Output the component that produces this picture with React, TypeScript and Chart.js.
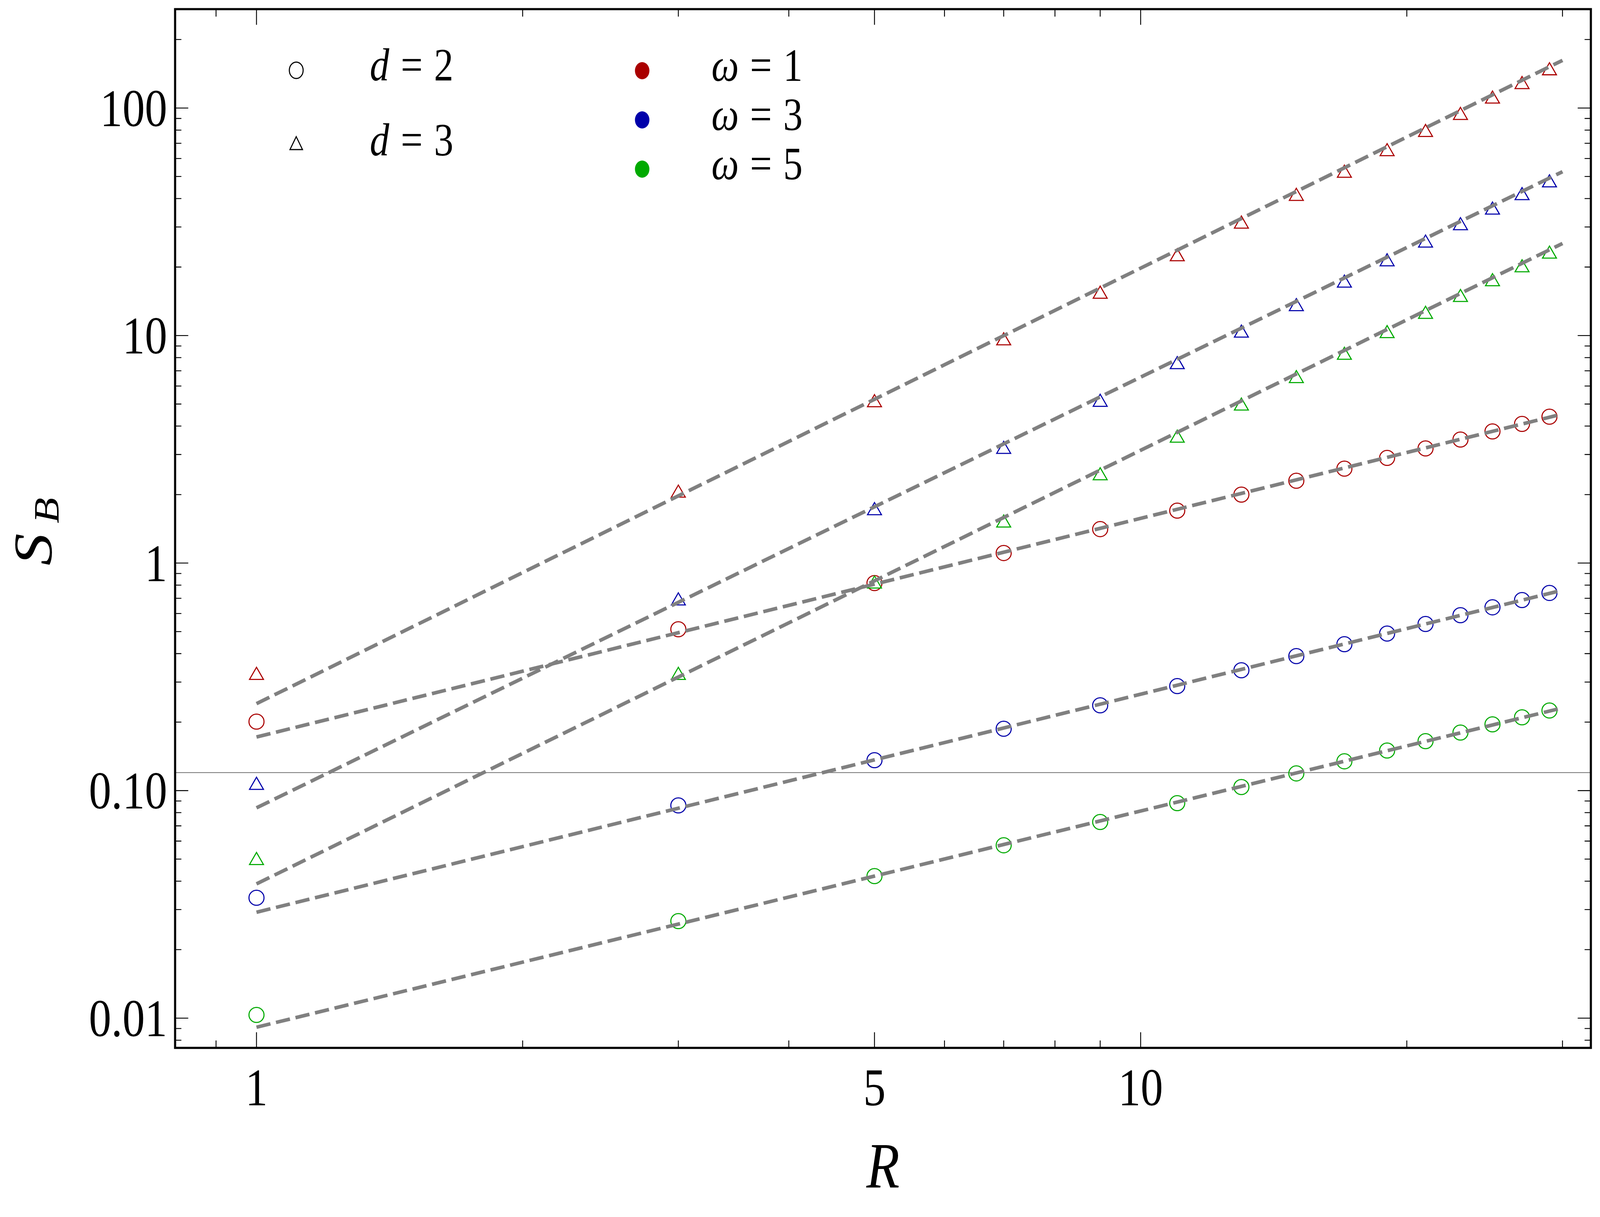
import React, { useEffect, useRef } from 'react';
import { Chart, registerables } from 'chart.js';

Chart.register(...registerables);

// ---------- data ----------
const R = [1, 3, 5, 7, 9, 11, 13, 15, 17, 19, 21, 23, 25, 27, 29];

// d = 3 (triangles)
const d3w1 = [0.321, 2.03, 5.07, 9.48, 15.2, 22.2, 30.9, 40.9, 51.7, 64.3, 78.1, 92.8, 109.5, 126.8, 145.8];
const d3w3 = [0.1055, 0.682, 1.7, 3.16, 5.09, 7.45, 10.25, 13.4, 17.0, 21.1, 25.5, 30.4, 35.6, 41.2, 46.9];
const d3w5 = [0.0493, 0.321, 0.809, 1.5, 2.42, 3.54, 4.9, 6.47, 8.19, 10.2, 12.4, 14.7, 17.25, 19.85, 22.8];

// d = 2 (circles)
const d2w1 = [0.201, 0.512, 0.817, 1.107, 1.41, 1.7, 2.0, 2.3, 2.6, 2.9, 3.19, 3.49, 3.79, 4.09, 4.4];
const d2w3 = [0.0338, 0.0861, 0.136, 0.187, 0.237, 0.288, 0.338, 0.39, 0.44, 0.49, 0.54, 0.59, 0.639, 0.688, 0.739];
const d2w5 = [0.01033, 0.0267, 0.0421, 0.0575, 0.0728, 0.0881, 0.1037, 0.119, 0.1345, 0.15, 0.165, 0.18, 0.1955, 0.21, 0.225];

// fitted power laws (end points)
const FIT_R = [1, 30];
const fitD3w1 = [0.241, 162];
const fitD3w3 = [0.084, 52.5];
const fitD3w5 = [0.0389, 25.4];
const fitD2w1 = [0.172, 4.52];
const fitD2w3 = [0.0292, 0.76];
const fitD2w5 = [0.00912, 0.231];

const REF_LEVEL = 0.12;

// axes
const X_MIN = 0.809;
const X_MAX = 32.3;
const Y_MIN = 0.0074;
const Y_MAX = 272;
const X_MAJOR = [1, 5, 10];
const X_LABELS = ['1', '5', '10'];
const X_MINOR = [0.9, 2, 3, 4, 6, 7, 8, 9, 20, 30];
const Y_MAJOR = [0.01, 0.1, 1, 10, 100];
const Y_LABELS = ['0.01', '0.10', '1', '10', '100'];
const Y_MINOR = [
  0.008, 0.009,
  0.02, 0.03, 0.04, 0.05, 0.06, 0.07, 0.08, 0.09,
  0.2, 0.3, 0.4, 0.5, 0.6, 0.7, 0.8, 0.9,
  2, 3, 4, 5, 6, 7, 8, 9,
  20, 30, 40, 50, 60, 70, 80, 90,
  200,
];

const D_LEGEND = ['2', '3'];
const W_LEGEND = ['1', '3', '5'];

const RED = '#aa0000';
const BLUE = '#0000aa';
const GREEN = '#00aa00';
const GRAY = '#808080';
const SERIF = '"Liberation Serif", "DejaVu Serif", serif';

// design reference size
const REF_W = 4861;
const REF_H = 3116;

const pts = (xs: number[], ys: number[]) => xs.map((x, i) => ({ x, y: ys[i] }));

function makeDecor(kx: number, ky: number) {
  const k = Math.sqrt(kx * ky);
  const X = (v: number) => v * kx;
  const Y = (v: number) => v * ky;
  const S = (v: number) => v * k;

  const text = (
    ctx: CanvasRenderingContext2D,
    s: string,
    x: number,
    y: number,
    size: number,
    italic: boolean,
    align: CanvasTextAlign,
  ) => {
    ctx.save();
    ctx.translate(x, y);
    ctx.scale(kx, ky);
    ctx.font = `${italic ? 'italic ' : ''}${size}px ${SERIF}`;
    ctx.textAlign = align;
    ctx.textBaseline = 'alphabetic';
    ctx.fillText(s, 0, 0);
    ctx.restore();
  };

  return {
    id: 'decor',
    beforeDatasetsDraw(chart: any) {
      const { ctx, chartArea: a, scales } = chart;
      const y = scales.y.getPixelForValue(REF_LEVEL);
      ctx.save();
      ctx.strokeStyle = GRAY;
      ctx.lineWidth = S(2.5);
      ctx.beginPath();
      ctx.moveTo(a.left, y);
      ctx.lineTo(a.right, y);
      ctx.stroke();
      ctx.restore();
    },
    afterDraw(chart: any) {
      const { ctx, chartArea: a, scales } = chart;
      const xs = scales.x;
      const ys = scales.y;
      ctx.save();
      ctx.strokeStyle = '#000';
      ctx.fillStyle = '#000';
      ctx.lineWidth = S(2.5);
      const xt = (v: number, len: number) => {
        const px = xs.getPixelForValue(v);
        ctx.beginPath();
        ctx.moveTo(px, a.bottom);
        ctx.lineTo(px, a.bottom - Y(len));
        ctx.moveTo(px, a.top);
        ctx.lineTo(px, a.top + Y(len));
        ctx.stroke();
      };
      const yt = (v: number, len: number) => {
        const py = ys.getPixelForValue(v);
        ctx.beginPath();
        ctx.moveTo(a.left, py);
        ctx.lineTo(a.left + X(len), py);
        ctx.moveTo(a.right, py);
        ctx.lineTo(a.right - X(len), py);
        ctx.stroke();
      };
      X_MINOR.forEach((v) => xt(v, 19));
      X_MAJOR.forEach((v) => xt(v, 40));
      Y_MINOR.forEach((v) => yt(v, 19));
      Y_MAJOR.forEach((v) => yt(v, 40));

      // frame
      ctx.lineWidth = S(6);
      ctx.strokeRect(a.left, a.top, a.right - a.left, a.bottom - a.top);

      // tick labels
      Y_MAJOR.forEach((v, i) => {
        const py = ys.getPixelForValue(v);
        text(ctx, Y_LABELS[i], a.left - X(24), py + Y(46), 136, false, 'right');
      });
      X_MAJOR.forEach((v, i) => {
        const px = xs.getPixelForValue(v);
        text(ctx, X_LABELS[i], px, a.bottom + Y(147), 136, false, 'center');
      });

      // axis titles
      text(ctx, 'R', (a.left + a.right) / 2, a.bottom + Y(358), 165, true, 'center');

      ctx.save();
      ctx.translate(X(157), Y(1448));
      ctx.scale(kx, ky);
      ctx.rotate(-Math.PI / 2);
      ctx.textAlign = 'left';
      ctx.textBaseline = 'alphabetic';
      ctx.font = `italic 165px ${SERIF}`;
      ctx.fillText('S', 0, 0);
      ctx.font = `italic 108px ${SERIF}`;
      ctx.fillText('B', 108, 21);
      ctx.restore();

      // legend
      ctx.lineWidth = S(3);
      const dRows = [180, 372];
      D_LEGEND.forEach((lab, i) => {
        const cx = X(900);
        const cy = Y(dRows[i]);
        ctx.beginPath();
        if (i === 0) {
          ctx.ellipse(cx, cy, X(21), Y(21), 0, 0, Math.PI * 2);
        } else {
          const r = 22;
          ctx.moveTo(cx, cy - Y(r));
          ctx.lineTo(cx + X((r * Math.sqrt(3)) / 2), cy + Y(r / 2));
          ctx.lineTo(cx - X((r * Math.sqrt(3)) / 2), cy + Y(r / 2));
          ctx.closePath();
        }
        ctx.stroke();
        const base = cy + Y(26);
        text(ctx, 'd', X(1153), base, 118, true, 'center');
        text(ctx, '=', X(1251), base, 118, false, 'center');
        text(ctx, lab, X(1348), base, 118, false, 'center');
      });
      const wRows = [181, 307, 433];
      const wCols = [RED, BLUE, GREEN];
      W_LEGEND.forEach((lab, i) => {
        const cy = Y(wRows[i]);
        ctx.fillStyle = wCols[i];
        ctx.beginPath();
        ctx.ellipse(X(1951), cy, X(22), Y(22), 0, 0, Math.PI * 2);
        ctx.fill();
        ctx.fillStyle = '#000';
        const base = cy + Y(26);
        text(ctx, '\u03c9', X(2203), base, 118, true, 'center');
        text(ctx, '=', X(2312), base, 118, false, 'center');
        text(ctx, lab, X(2409), base, 118, false, 'center');
      });
      ctx.restore();
    },
  };
}

function markerSet(data: number[], color: string, style: string, radius: number, k: number) {
  return {
    data: pts(R, data),
    showLine: false,
    pointStyle: style,
    pointRadius: radius * k,
    pointBorderWidth: 3 * k,
    pointBorderColor: color,
    pointBackgroundColor: 'rgba(0,0,0,0)',
    order: 2,
  };
}

function fitSet(data: number[], k: number) {
  return {
    data: pts(FIT_R, data),
    showLine: true,
    borderColor: GRAY,
    borderWidth: 10 * k,
    borderDash: [40 * k, 16 * k],
    borderCapStyle: 'butt',
    pointRadius: 0,
    fill: false,
    order: 1,
  };
}

export default function App() {
  const ref = useRef<HTMLCanvasElement | null>(null);
  const boxRef = useRef<HTMLDivElement | null>(null);
  useEffect(() => {
    if (!ref.current || !boxRef.current) return;
    const W = boxRef.current.clientWidth || REF_W;
    const H = boxRef.current.clientHeight || REF_H;
    const kx = W / REF_W;
    const ky = H / REF_H;
    const k = Math.sqrt(kx * ky);
    const chart = new Chart(ref.current, {
      type: 'scatter',
      data: {
        datasets: [
          markerSet(d3w1, RED, 'triangle', 22.5, k),
          markerSet(d3w3, BLUE, 'triangle', 22.5, k),
          markerSet(d3w5, GREEN, 'triangle', 22.5, k),
          markerSet(d2w1, RED, 'circle', 21, k),
          markerSet(d2w3, BLUE, 'circle', 21, k),
          markerSet(d2w5, GREEN, 'circle', 21, k),
          fitSet(fitD3w1, k),
          fitSet(fitD3w3, k),
          fitSet(fitD3w5, k),
          fitSet(fitD2w1, k),
          fitSet(fitD2w3, k),
          fitSet(fitD2w5, k),
        ] as any,
      },
      options: {
        animation: false,
        responsive: true,
        maintainAspectRatio: false,
        layout: {
          padding: {
            left: 532 * kx,
            top: 22 * ky,
            right: (REF_W - 4838) * kx,
            bottom: (REF_H - 2683) * ky,
          },
        },
        plugins: { legend: { display: false }, tooltip: { enabled: false } },
        events: [],
        scales: {
          x: { type: 'logarithmic', min: X_MIN, max: X_MAX, display: false },
          y: { type: 'logarithmic', min: Y_MIN, max: Y_MAX, display: false },
        },
      },
      plugins: [makeDecor(kx, ky)],
    });
    return () => chart.destroy();
  }, []);
  return (
    <div
      ref={boxRef}
      style={{ position: 'fixed', left: 0, top: 0, width: '100vw', height: '100vh', background: '#fff', overflow: 'hidden' }}
    >
      <canvas ref={ref} />
    </div>
  );
}
